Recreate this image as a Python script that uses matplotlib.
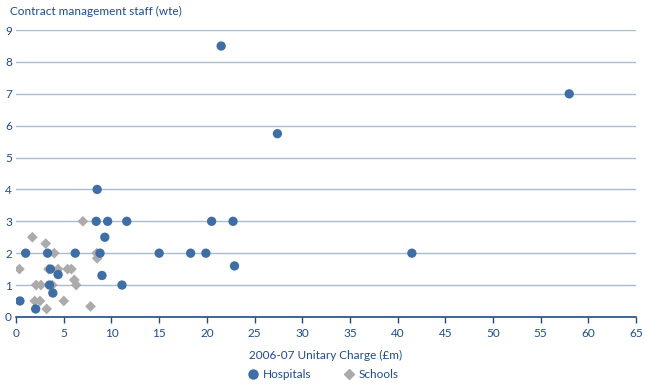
import matplotlib.pyplot as plt
from matplotlib.lines import Line2D

# Hospitals: unitary charge (£m) vs contract management staff (wte)
hosp_x = [8.5, 8.4, 9.6, 11.6, 9.3, 1.0, 3.3, 6.2, 8.8, 3.6, 4.4, 9.0, 3.5, 3.85,
          11.1, 0.4, 2.05, 20.5, 22.75, 15.0, 18.3, 19.9, 22.9, 21.5, 27.4, 41.5, 58.0]
hosp_y = [4.0, 3.0, 3.0, 3.0, 2.5, 2.0, 2.0, 2.0, 2.0, 1.5, 1.33, 1.3, 1.0, 0.75,
          1.0, 0.5, 0.25, 3.0, 3.0, 2.0, 2.0, 2.0, 1.6, 8.5, 5.75, 2.0, 7.0]

# Schools
school_x = [0.35, 1.7, 3.1, 4.0, 7.0, 8.45, 8.5, 3.4, 4.4, 5.4, 5.8, 6.1, 6.3,
            2.1, 2.6, 3.8, 1.95, 2.5, 5.0, 3.2, 7.8]
school_y = [1.5, 2.5, 2.3, 2.0, 3.0, 2.0, 1.84, 1.5, 1.5, 1.5, 1.5, 1.16, 1.0,
            1.0, 1.0, 1.0, 0.5, 0.5, 0.5, 0.25, 0.33]

BLUE = '#3f6ea6'
GREY = '#ababab'
TEXT = '#1f4b8a'

plt.rcParams['font.family'] = ['Lato', 'DejaVu Sans']

fig = plt.figure(figsize=(6.45, 3.86), dpi=100)
ax = fig.add_axes([0.025, 0.179, 0.961, 0.743])

ax.scatter(school_x, school_y, s=30, marker='D', c=GREY, edgecolors='none', zorder=3)
ax.scatter(hosp_x, hosp_y, s=45, marker='o', c=BLUE, edgecolors='none', zorder=4)

ax.set_xlim(0, 65)
ax.set_ylim(0, 9)
ax.set_xticks(range(0, 66, 5))
ax.set_yticks(range(0, 10))
ax.yaxis.grid(True, color='#a9bccc', linewidth=1)
ax.set_axisbelow(True)

for s in ['top', 'right', 'left']:
    ax.spines[s].set_visible(False)
ax.spines['bottom'].set_color(TEXT)
ax.spines['bottom'].set_linewidth(1.2)
ax.tick_params(axis='x', colors=TEXT, labelsize=8.5, direction='out', length=4, width=1, pad=4)
ax.tick_params(axis='y', colors=TEXT, labelsize=8.5, length=0, pad=3)

fig.text(0.015, 0.97, 'Contract management staff (wte)', color=TEXT, fontsize=8.5, va='center')
ax.set_xlabel('2006-07 Unitary Charge (£m)', color=TEXT, fontsize=8.5, labelpad=8)

handles = [Line2D([], [], marker='o', color=BLUE, linestyle='none', markersize=6.5),
           Line2D([], [], marker='D', color=GREY, linestyle='none', markersize=5.5)]
leg = fig.legend(handles, ['Hospitals', 'Schools'], loc='center', bbox_to_anchor=(0.5, 0.03),
                 ncol=2, frameon=False, fontsize=8.5, handletextpad=0.2, columnspacing=2.6,
                 handlelength=1.2)
for t in leg.get_texts():
    t.set_color(TEXT)

fig.savefig('out.png', dpi=100)
